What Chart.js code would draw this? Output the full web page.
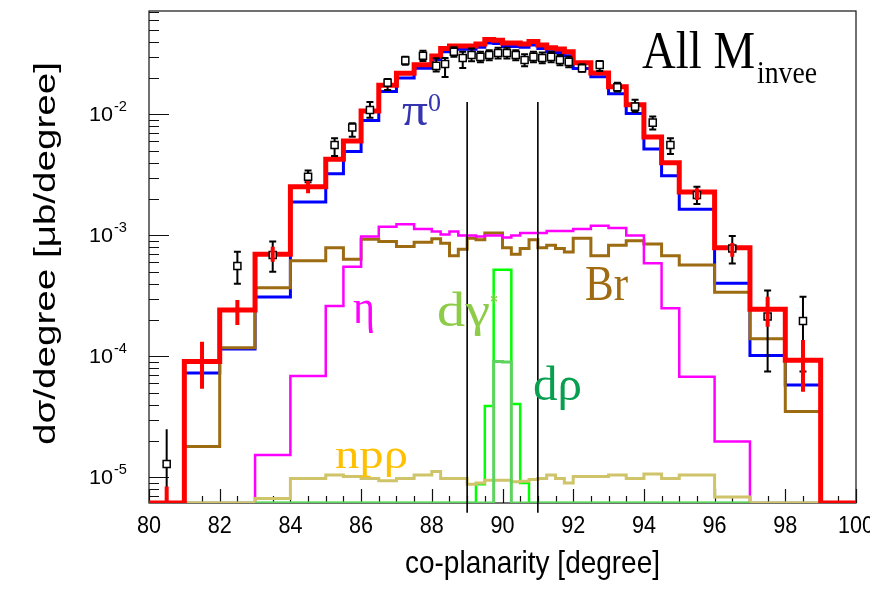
<!DOCTYPE html>
<html>
<head>
<meta charset="utf-8">
<script src="https://cdn.jsdelivr.net/npm/chart.js@4.4.0/dist/chart.umd.min.js"></script>
<style>
  html, body { margin: 0; padding: 0; background: #fff; }
  canvas { display: block; }
</style>
</head>
<body>
<canvas id="coplanarity" width="870" height="589"></canvas>
<script>
// bin edges of the co-planarity histograms [degree]
const binEdges = [80, 81, 82, 83, 84, 85, 85.5, 86, 86.5, 87, 87.5, 88,
  88.25, 88.5, 88.75, 89, 89.25, 89.5, 89.75, 90, 90.25, 90.5, 90.75, 91,
  91.25, 91.5, 91.75, 92, 92.5, 93, 93.5, 94, 94.5, 95, 96, 97, 98, 99, 100];

// dsigma/degree per bin (0 = empty bin, null = not drawn)
const totalSim = [0, 9.1e-5, 2.42e-4, 7.0e-4, 2.53e-3, 4.26e-3, 6.04e-3, 1.07e-2, 1.74e-2, 2.19e-2, 2.57e-2,
  3.04e-2, 3.51e-2, 3.68e-2, 3.68e-2, 3.68e-2, 3.83e-2, 4.17e-2, 4.1e-2, 3.9e-2, 3.9e-2, 3.83e-2, 4.0e-2, 3.75e-2, 3.55e-2, 3.48e-2, 3.29e-2,
  2.67e-2, 2.2e-2, 1.69e-2, 1.2e-2, 6.5e-3, 3.98e-3,
  2.29e-3, 7.9e-4, 2.45e-4, 9.3e-5, 0];
const pi0Sim = [0, 7.3e-5, 1.15e-4, 3.1e-4, 1.89e-3, 3.23e-3, 4.93e-3, 8.9e-3, 1.55e-2, 2.0e-2, 2.41e-2,
  2.85e-2, 3.3e-2, 3.45e-2, 3.45e-2, 3.45e-2, 3.6e-2, 3.9e-2, 3.85e-2, 3.65e-2, 3.65e-2, 3.6e-2, 3.75e-2, 3.5e-2, 3.3e-2, 3.25e-2, 3.05e-2,
  2.4e-2, 2.05e-2, 1.48e-2, 1.02e-2, 5.19e-3, 3.12e-3,
  1.65e-3, 4.03e-4, 1.02e-4, 5.8e-5, 0];
const brSim = [0, 1.8e-5, 1.18e-4, 3.7e-4, 6.17e-4, 7.9e-4, 6.35e-4, 9.3e-4, 8.9e-4, 8.1e-4, 8.8e-4,
  9.4e-4, 8.6e-4, 6.8e-4, 7.7e-4, 9.5e-4, 9.2e-4, 1.05e-3, 1.05e-3, 7.9e-4, 7.0e-4, 7.8e-4, 9.2e-4, 7.9e-4, 8.3e-4, 7.8e-4, 7.3e-4,
  9.5e-4, 6.8e-4, 8.3e-4, 9.05e-4, 8.5e-4, 6.8e-4,
  5.7e-4, 3.4e-4, 1.4e-4, 3.5e-5, 0];
const etaSim = [0, 0, 0, 1.53e-5, 6.9e-5, 2.61e-4, 5.5e-4, 9.8e-4, 1.18e-3, 1.24e-3, 1.13e-3,
  1.08e-3, 1.02e-3, 1.08e-3, 1.0e-3, 1.0e-3, 9.8e-4, 1.0e-3, 1.0e-3, 9.6e-4, 1.0e-3, 1.05e-3, 1.05e-3, 1.05e-3, 1.09e-3, 1.09e-3, 1.09e-3,
  1.13e-3, 1.2e-3, 1.15e-3, 1.0e-3, 5.9e-4, 2.5e-4,
  6.8e-5, 1.98e-5, 0, 0, 0];
const npRhoSim = [0, 0, 0, 6.7e-6, 9.8e-6, 1.05e-5, 1.02e-5, 9.8e-6, 9.4e-6, 9.8e-6, 1.05e-5,
  1.12e-5, 9.8e-6, 9.8e-6, 9.8e-6, 8.8e-6, 9.0e-6, 9.5e-6, 9.5e-6, 9.5e-6, 9.2e-6, 9.3e-6, 9.6e-6, 9.8e-6, 1.05e-5, 9.8e-6, 9.0e-6,
  1.02e-5, 1.02e-5, 1.05e-5, 9.8e-6, 1.07e-5, 9.8e-6,
  1.05e-5, 6.9e-6, 0, 0, 0];
const dGammaSim = [0, 0, 0, 0, 0, 0, 0, 0, 0, 0, 0,
  0, 0, 0, 0, 0, 8.8e-6, 3.9e-5, 5.2e-4, 5.2e-4, 4.05e-5, 9.0e-6, 0, 0, 0, 0, 0,
  0, 0, 0, 0, 0, 0,
  0, 0, 0, 0, 0];
const dRhoSim = [null, null, null, 0, 0, 0, 0, 0, 0, 0, 0,
  0, 0, 0, 0, 0, 0, 0, 9.1e-5, 9.0e-5, 0, 0, 0, 0, 0, 0, 0,
  0, 0, 0, 0, 0, 0,
  0, 0, null, null, null];

// error bars of the summed simulation (red)
const simErrX  = [80.5, 81.5, 82.5, 83.5, 84.5, 95.5, 96.5, 97.5, 98.5];
const simErrLo = [0, 5.4e-5, 1.82e-4, 6.07e-4, 2.23e-3, 1.96e-3, 6.68e-4, 1.76e-4, 5.12e-5];
const simErrHi = [8.4e-6, 1.32e-4, 2.93e-4, 8.07e-4, 2.82e-3, 2.45e-3, 8.67e-4, 3.12e-4, 1.37e-4];

// measured points
const dataX = [80.5, 82.5, 83.5, 84.5, 85.25, 85.75, 86.25, 86.75, 87.25, 87.75,
  88.125, 88.375, 88.625, 88.875, 89.125, 89.375, 89.625, 89.875,
  90.125, 90.375, 90.625, 90.875, 91.125, 91.375, 91.625, 91.875,
  92.25, 92.75, 93.25, 93.75, 94.25, 94.75, 95.5, 96.5, 97.5, 98.5];
const dataY = [1.29e-5, 5.6e-4, 6.9e-4, 3.06e-3, 5.6e-3, 7.8e-3, 1.09e-2, 1.83e-2, 2.79e-2, 3.06e-2,
  2.52e-2, 2.61e-2, 3.3e-2, 2.93e-2, 3.1e-2, 2.99e-2, 3.1e-2, 3.22e-2,
  3.22e-2, 3.1e-2, 2.82e-2, 2.99e-2, 2.93e-2, 2.99e-2, 2.82e-2, 2.72e-2,
  2.41e-2, 2.57e-2, 1.68e-2, 1.16e-2, 8.56e-3, 5.6e-3, 2.16e-3, 7.8e-4, 2.14e-4, 1.96e-4];
const dataLo = [0, 3.98e-4, 5.0e-4, 2.75e-3, 4.54e-3, 6.55e-3, 9.4e-3, 1.59e-2, 2.57e-2, 2.77e-2,
  2.26e-2, 2.04e-2, 3.0e-2, 2.42e-2, 2.75e-2, 2.7e-2, 2.8e-2, 2.9e-2,
  2.9e-2, 2.8e-2, 2.5e-2, 2.7e-2, 2.65e-2, 2.7e-2, 2.55e-2, 2.45e-2,
  2.25e-2, 2.29e-2, 1.55e-2, 1.05e-2, 7.5e-3, 4.72e-3, 1.82e-3, 5.85e-4, 7.5e-5, 7.5e-5];
const dataHi = [2.5e-5, 7.35e-4, 8.9e-4, 3.44e-3, 6.36e-3, 8.46e-3, 1.27e-2, 1.96e-2, 3.0e-2, 3.36e-2,
  2.91e-2, 2.93e-2, 3.6e-2, 3.3e-2, 3.5e-2, 3.3e-2, 3.4e-2, 3.55e-2,
  3.55e-2, 3.4e-2, 3.15e-2, 3.3e-2, 3.25e-2, 3.3e-2, 3.1e-2, 3.0e-2,
  2.6e-2, 2.77e-2, 1.83e-2, 1.32e-2, 9.6e-3, 6.36e-3, 2.53e-3, 9.9e-4, 3.5e-4, 3.12e-4];

// cut lines
const cutX = [89, 91];
const cutTop = 1.27e-2;
const cutBottom = 5.1e-6;

// tick labels
const xTickLabels = [80, 82, 84, 86, 88, 90, 92, 94, 96, 98, 100];
const yTickPowers = [-2, -3, -4, -5];

const yMin = 6.15e-6, yMax = 7.16e-2;

function histPoints(values) {
  const pts = [];
  let last = -1;
  values.forEach((v, i) => {
    if (v === null) return;
    if (pts.length === 0) pts.push({ x: binEdges[i], y: yMin });
    pts.push({ x: binEdges[i], y: v > 0 ? v : yMin });
    last = i;
  });
  const endX = binEdges[last + 1];
  pts.push({ x: endX, y: pts[pts.length - 1].y });
  pts.push({ x: endX, y: yMin });
  return pts;
}

function histDataset(label, values, color, width, order) {
  return {
    label: label,
    data: histPoints(values),
    borderColor: color,
    borderWidth: width,
    stepped: true,
    pointRadius: 0,
    fill: false,
    borderJoinStyle: 'miter',
    borderCapStyle: 'butt',
    order: order
  };
}

function fitText(ctx, txt, x, y, font, width, color, align) {
  ctx.save();
  ctx.font = font;
  ctx.fillStyle = color;
  ctx.textAlign = 'left';
  ctx.textBaseline = 'alphabetic';
  const w = ctx.measureText(txt).width;
  let left = x;
  if (align === 'center') left = x - width / 2;
  if (align === 'right') left = x - width;
  ctx.translate(left, y);
  ctx.scale(width / w, 1);
  ctx.fillText(txt, 0, 0);
  ctx.restore();
}

function errBar(ctx, px, pTop, pBot, cap) {
  ctx.moveTo(px, pTop);
  ctx.lineTo(px, pBot);
  if (cap) {
    ctx.moveTo(px - cap, pTop); ctx.lineTo(px + cap, pTop);
    ctx.moveTo(px - cap, pBot); ctx.lineTo(px + cap, pBot);
  }
}

const rootFrame = {
  id: 'rootFrame',
  beforeDatasetsDraw(chart) {
    const { ctx, chartArea: a, scales: { x, y } } = chart;
    ctx.save();
    ctx.strokeStyle = '#111';
    ctx.lineWidth = 1.2;
    ctx.strokeRect(a.left, a.top, a.right - a.left, a.bottom - a.top);
    ctx.beginPath();
    for (let v = 80; v <= 100.001; v += 0.5) {
      const px = Math.round(x.getPixelForValue(v)) + 0.5;
      const len = Math.abs(v % 2) < 1e-6 ? 14 : 7;
      ctx.moveTo(px, a.bottom);
      ctx.lineTo(px, a.bottom - len);
    }
    for (let k = -6; k <= -1; k++) {
      for (let m = 1; m <= 9; m++) {
        const v = m * Math.pow(10, k);
        if (v < yMin || v > yMax) continue;
        const py = Math.round(y.getPixelForValue(v)) + 0.5;
        ctx.moveTo(a.left, py);
        ctx.lineTo(a.left + (m === 1 ? 20 : 10), py);
      }
    }
    ctx.stroke();
    ctx.restore();
  },
  beforeDatasetDraw(chart, args) {
    if (chart.data.datasets[args.index].label !== 'data') return;
    const { ctx, scales: { x, y } } = chart;
    ctx.save();
    ctx.strokeStyle = '#000';
    ctx.lineWidth = 2;
    ctx.beginPath();
    dataX.forEach((v, i) => {
      const px = x.getPixelForValue(v);
      const lo = dataLo[i] > 0 ? y.getPixelForValue(dataLo[i]) : y.getPixelForValue(yMin);
      errBar(ctx, px, y.getPixelForValue(dataHi[i]), lo, dataLo[i] > 0 ? 3.5 : 0);
    });
    ctx.stroke();
    ctx.restore();
  },
  afterDatasetsDraw(chart) {
    const { ctx, scales: { x, y } } = chart;
    ctx.save();
    ctx.strokeStyle = '#ff0000';
    ctx.lineWidth = 4;
    ctx.beginPath();
    simErrX.forEach((v, i) => {
      const px = x.getPixelForValue(v);
      const lo = simErrLo[i] > 0 ? simErrLo[i] : yMin;
      errBar(ctx, px, y.getPixelForValue(simErrHi[i]), y.getPixelForValue(lo), 0);
    });
    ctx.stroke();
    ctx.restore();
  },
  afterDraw(chart) {
    const { ctx, scales: { x, y } } = chart;
    const sans = '"Liberation Sans", Arial, sans-serif';
    const serif = '"Liberation Serif", "Times New Roman", serif';

    // x tick labels
    xTickLabels.forEach(v => {
      ctx.font = '24px ' + sans;
      const w = ctx.measureText(String(v)).width * 0.9;
      fitText(ctx, String(v), x.getPixelForValue(v), 533, '24px ' + sans, w, '#000', 'center');
    });
    // y tick labels 10^k
    yTickPowers.forEach(k => {
      const py = y.getPixelForValue(Math.pow(10, k));
      fitText(ctx, '10', 113, py + 7, '20px ' + sans, 24, '#000', 'right');
      fitText(ctx, String(k), 114, py - 3, '15px ' + sans, 13, '#000', 'left');
    });

    // axis titles
    fitText(ctx, 'co-planarity [degree]', 405, 573, '32px ' + sans, 255, '#000', 'left');
    ctx.save();
    ctx.translate(55, 445);
    ctx.rotate(-Math.PI / 2);
    fitText(ctx, 'd\u03c3/degree [\u03bcb/degree]', 0, 0, '30px ' + sans, 383, '#000', 'left');
    ctx.restore();

    // annotations
    fitText(ctx, 'All M', 642, 68, '52px ' + serif, 113, '#000', 'left');
    fitText(ctx, 'invee', 757, 83, '32px ' + serif, 60, '#000', 'left');
    fitText(ctx, '\u03c0', 402, 125, '46px ' + serif, 26, '#3535b0', 'left');
    fitText(ctx, '0', 428, 111, '26px ' + serif, 13, '#3535b0', 'left');
    fitText(ctx, '\u03b7', 353, 323, '48px ' + serif, 22, '#ff00ff', 'left');
    fitText(ctx, 'd\u03b3', 437, 326, '48px ' + serif, 53, '#8ccc48', 'left');
    fitText(ctx, '*', 490, 311, '26px ' + serif, 8, '#8ccc48', 'left');
    fitText(ctx, 'd\u03c1', 533, 400, '48px ' + serif, 49, '#0a9e50', 'left');
    fitText(ctx, 'Br', 585, 300, '50px ' + serif, 43, '#a06a10', 'left');
    fitText(ctx, 'np\u03c1', 335, 468, '40px ' + serif, 73, '#ffc000', 'left');
  }
};

const datasets = [
  {
    label: 'data',
    data: dataX.map((v, i) => ({ x: v, y: dataY[i] })),
    showLine: false,
    pointStyle: 'rect',
    pointRadius: 5,
    pointBackgroundColor: '#ffffff',
    pointBorderColor: '#000000',
    pointBorderWidth: 1.5,
    order: 0
  },
  histDataset('total', totalSim, '#ff0000', 5, 1),
  ...cutX.map(cx => ({
    label: 'cut ' + cx,
    data: [{ x: cx, y: cutTop }, { x: cx, y: cutBottom }],
    borderColor: '#000000',
    borderWidth: 1.6,
    pointRadius: 0,
    clip: false,
    order: 2
  })),
  histDataset('d\u03c1', dRhoSim, '#5fd35f', 3, 3),
  histDataset('np\u03c1', npRhoSim, '#cfc46a', 3, 4),
  histDataset('d\u03b3*', dGammaSim, '#00ff00', 2.5, 5),
  histDataset('\u03b7', etaSim, '#ff00ff', 2.5, 6),
  histDataset('Br', brSim, '#9c6b12', 3, 7),
  histDataset('\u03c00', pi0Sim, '#0000ff', 3, 8)
];

new Chart(document.getElementById('coplanarity'), {
  type: 'line',
  data: { datasets: datasets },
  options: {
    responsive: false,
    animation: false,
    layout: { padding: { left: 149, right: 14, top: 11, bottom: 86 } },
    plugins: { legend: { display: false }, tooltip: { enabled: false } },
    scales: {
      x: { type: 'linear', min: 80, max: 100, display: false },
      y: { type: 'logarithmic', min: yMin, max: yMax, display: false }
    }
  },
  plugins: [rootFrame]
});
</script>
</body>
</html>
